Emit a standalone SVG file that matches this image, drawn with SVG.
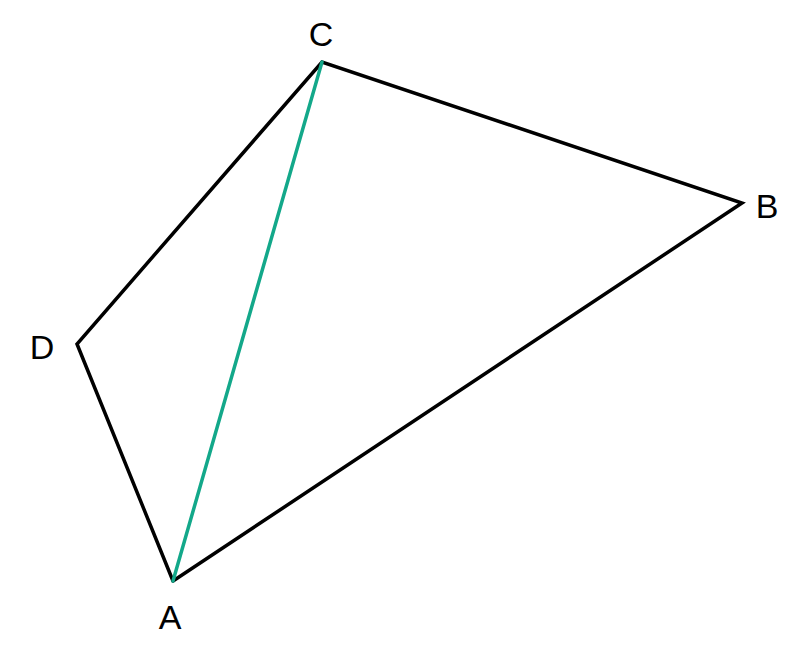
<svg xmlns="http://www.w3.org/2000/svg" width="800" height="650" viewBox="0 0 800 650">
<style>
.edge{fill:none;stroke:#000;stroke-width:3.5;stroke-linejoin:miter;stroke-linecap:round}
.diag{fill:none;stroke:#13a88a;stroke-width:3.5;stroke-linecap:round}
.lbl{font-family:"Liberation Sans",Arial,sans-serif;font-size:34px;fill:#000;text-anchor:middle}
</style>
<rect width="800" height="650" fill="#fff"/>
<g id="connectors">
<polyline class="edge" points="173,581 77,344 322,62 742,203 173,581"/>
<line class="diag" x1="173" y1="581" x2="322" y2="62"/>
</g>
<g id="A"><text class="lbl" x="170" y="629">A</text></g>
<g id="B"><text class="lbl" x="767" y="218">B</text></g>
<g id="C"><text class="lbl" x="321" y="46">C</text></g>
<g id="D"><text class="lbl" x="42" y="359">D</text></g>
</svg>
